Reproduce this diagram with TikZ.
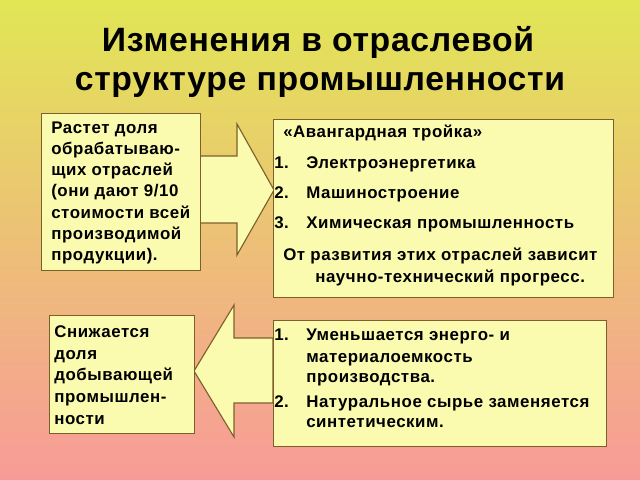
\documentclass[tikz,border=0pt]{standalone}
\usepackage{fontspec}
\setmainfont{Liberation Sans}
\newfontfamily\ttlfont[LetterSpace=2]{Liberation Sans}
\newfontfamily\bodyfont[LetterSpace=3.3]{Liberation Sans}
\definecolor{bgtop}{RGB}{225,230,85}
\definecolor{bgmid}{RGB}{238,185,105}
\definecolor{bgbot}{RGB}{248,155,152}
\definecolor{boxfill}{RGB}{251,251,176}
\definecolor{edgebrown}{RGB}{125,95,45}
\tikzset{
  bx/.style={draw=edgebrown, fill=boxfill, line width=0.8pt, inner sep=0pt, anchor=north west},
  blockarrow/.style={draw=edgebrown, fill=boxfill, line width=0.8pt, line join=miter},
  ttl/.style={font=\ttlfont\bfseries\fontsize{24}{27}\selectfont, anchor=base, inner sep=0pt},
  txt/.style={font=\bodyfont\bfseries\fontsize{12}{14}\selectfont, anchor=base west, inner sep=0pt}
}
\begin{document}
\begin{tikzpicture}[x=0.025cm,y=-0.025cm]
		\useasboundingbox (0,0) rectangle (640,480);
		\shade[top color=bgtop, middle color=bgmid, bottom color=bgbot] (0,0) rectangle (640,480);
		
		% title
		\node[ttl] (ttl1) at (318,52) {Изменения в отраслевой};
		\node[ttl] (ttl2) at (320,90) {структуре промышленности};
		
		% block arrows
		\draw[blockarrow] (200,156) -- (237,156) -- (237,124) -- (274,190)
		  -- (237,255) -- (237,223) -- (200,223) -- cycle;
		\draw[blockarrow] (273,338) -- (234,338) -- (234,305) -- (194,371)
		  -- (234,437) -- (234,403) -- (273,403) -- cycle;
		
		% boxes
		\node[bx, minimum width=3.975cm, minimum height=3.925cm] (grow) at (41,113) {};
		\node[bx, minimum width=8.5cm, minimum height=4.45cm] (triad) at (273,119) {};
		\node[bx, minimum width=3.625cm, minimum height=2.95cm] (fall) at (49,315) {};
		\node[bx, minimum width=8.325cm, minimum height=3.15cm] (trend) at (273,320) {};
		
		% upper left text
		\foreach \yy/\txt [count=\i] in {133/{Растет доля}, 154/{обрабатываю-},
		  175/{щих отраслей}, 196/{(они дают 9/10}, 218/{стоимости всей},
		  239/{производимой}, 260/{продукции).}}
		  \node[txt] (g\i) at (51,\yy) {\txt};
		
		% upper right text
		\node[txt] (t0) at (283,137) {«Авангардная тройка»};
		\foreach \yy/\txt [count=\i] in {168/{Электроэнергетика}, 198/{Машиностроение},
		  228/{Химическая промышленность}}
		{
		  \node[txt] (n\i) at (274,\yy) {\i.};
		  \node[txt] (t\i) at (306,\yy) {\txt};
		}
		\node[txt] (t4) at (283,260) {От развития этих отраслей зависит};
		\node[txt] (t5) at (315,282) {научно-технический прогресс.};
		
		% lower left text
		\foreach \yy/\txt [count=\i] in {337/{Снижается}, 359/{доля},
		  380/{добывающей}, 402/{промышлен-}, 424/{ности}}
		  \node[txt] (f\i) at (54,\yy) {\txt};
		
		% lower right text
		\node[txt] (m1) at (274,340) {1.};
		\node[txt] (d1) at (306,340) {Уменьшается энерго- и};
		\node[txt] (d2) at (306,362) {материалоемкость};
		\node[txt] (d3) at (306,382) {производства.};
		\node[txt] (m2) at (274,407) {2.};
		\node[txt] (d4) at (306,407) {Натуральное сырье заменяется};
		\node[txt] (d5) at (306,427) {синтетическим.};
\end{tikzpicture}
\end{document}
